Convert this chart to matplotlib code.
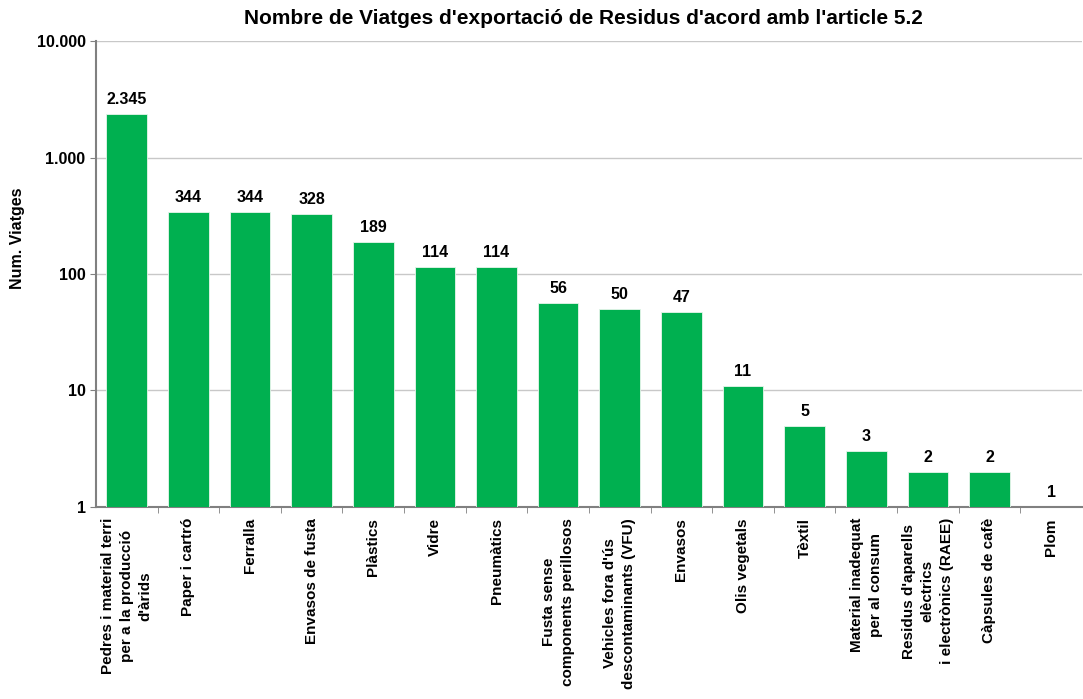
import matplotlib
matplotlib.use("Agg")
import matplotlib.pyplot as plt
from matplotlib.ticker import FixedLocator, FixedFormatter

plt.rcParams['font.family'] = ['Liberation Sans', 'DejaVu Sans']

categories = [
    "Pedres i material terri\nper a la producció\nd'àrids",
    "Paper i cartró",
    "Ferralla",
    "Envasos de fusta",
    "Plàstics",
    "Vidre",
    "Pneumàtics",
    "Fusta sense\ncomponents perillosos",
    "Vehicles fora d'ús\ndescontaminants (VFU)",
    "Envasos",
    "Olis vegetals",
    "Tèxtil",
    "Material inadequat\nper al consum",
    "Residus d'aparells\nelèctrics\ni electrònics (RAEE)",
    "Càpsules de cafè",
    "Plom",
]
viatges = [2345, 344, 344, 328, 189, 114, 114, 56, 50, 47, 11, 5, 3, 2, 2, 1]
value_labels = ["2.345", "344", "344", "328", "189", "114", "114", "56", "50",
                "47", "11", "5", "3", "2", "2", "1"]
y_ticks = [1, 10, 100, 1000, 10000]
y_tick_labels = ["1", "10", "100", "1.000", "10.000"]

fig = plt.figure(figsize=(10.83, 6.99), dpi=100)
ax = fig.add_axes([0.0886, 0.2747, 0.9104, 0.6666])

x = list(range(len(categories)))
ax.bar(x, viatges, width=0.66, color='#00B050', edgecolor='#e8f5ec',
       linewidth=0.6, zorder=3)

ax.set_yscale('log')
ax.set_ylim(1, 10000)
ax.set_xlim(-0.5, len(categories) - 0.5)
ax.yaxis.set_major_locator(FixedLocator(y_ticks))
ax.yaxis.set_major_formatter(FixedFormatter(y_tick_labels))
ax.yaxis.set_minor_locator(FixedLocator([]))
ax.grid(axis='y', color='#c8c8c8', linewidth=1, zorder=0)

for xi, v, lab in zip(x, viatges, value_labels):
    ax.annotate(lab, (xi, v), xytext=(0, 5), textcoords='offset points',
                ha='center', va='bottom', fontsize=11.5, fontweight='bold')

ax.set_xticks(x)
ax.set_xticklabels(categories, rotation=90, fontsize=11, fontweight='bold',
                   ha='center', va='top', multialignment='center',
                   linespacing=1.45)
ax.tick_params(axis='x', length=0, pad=8)
ax.set_xticks([i + 0.5 for i in x[:-1]], minor=True)
ax.tick_params(axis='x', which='minor', length=4, color='#808080', direction='out')
ax.tick_params(axis='y', length=4, color='#808080', labelsize=11.5)
for lab in ax.get_yticklabels():
    lab.set_fontweight('bold')

for side in ['top', 'right']:
    ax.spines[side].set_visible(False)
ax.spines['left'].set_color('#808080')
ax.spines['bottom'].set_color('#808080')
ax.spines['left'].set_linewidth(1.5)
ax.spines['bottom'].set_linewidth(1.5)

fig.text(18 / 1083, 1 - 238 / 699, "Num. Viatges", rotation=90, fontsize=11.5,
         fontweight='bold', ha='center', va='center')
fig.text(583 / 1083, 1 - 18 / 699,
         "Nombre de Viatges d'exportació de Residus d'acord amb l'article 5.2",
         fontsize=15, fontweight='bold', ha='center', va='center')

fig.savefig("out.png", dpi=100)
